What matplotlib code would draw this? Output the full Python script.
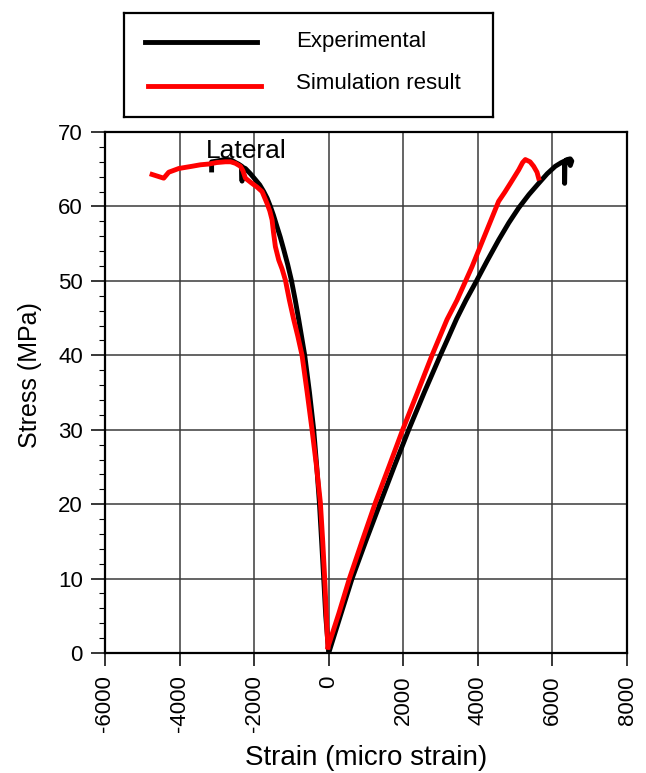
import numpy as np
import matplotlib.pyplot as plt
from matplotlib.ticker import MultipleLocator

plt.rcParams['font.family'] = ['Liberation Sans', 'DejaVu Sans']
plt.rcParams['axes.unicode_minus'] = False

# experimental curve, lateral branch (negative strain) and axial branch
exp_lat_strain = [0, -40, -80, -134, -190, -250, -320, -402, -515, -643, -804,
                  -900, -1001, -1100, -1206, -1300, -1400, -1480, -1564, -1650,
                  -1743, -1850, -1966, -2100, -2234, -2324, -2324, -2330, -2420,
                  -2500, -2600, -2700, -2800, -2900, -3000, -3128, -3140, -3140]
exp_lat_stress = [0, 2.5, 5, 10, 15, 20.2, 25, 30, 35, 40, 44.8,
                  47.5, 50.1, 52.2, 54.2, 55.9, 57.5, 58.8, 60, 61.1,
                  62, 62.9, 63.6, 64.4, 65.1, 65.3, 63.4, 65.4, 65.7,
                  65.9, 66.2, 66.3, 66.3, 66.2, 66.1, 66.0, 66.0, 64.9]
exp_ax_strain = [0, 300, 626, 1000, 1386, 1760, 2145, 2570, 2994, 3200, 3430,
                 3680, 3932, 4250, 4558, 4830, 5094, 5370, 5630, 5860, 6077,
                 6240, 6327, 6327, 6335, 6389, 6479, 6520, 6480, 6450]
exp_ax_stress = [0, 4.8, 10, 15.1, 20.2, 25.1, 30, 35.1, 40, 42.3, 44.9,
                 47.4, 49.7, 52.7, 55.5, 57.8, 59.8, 61.6, 63.1, 64.4, 65.4,
                 65.9, 66.1, 63.1, 66.1, 66.3, 66.4, 66.1, 65.5, 65.9]

# simulation result
sim_lat_strain = [-20, -45, -107, -160, -223, -330, -447, -580, -715, -830, -938,
                  -1054, -1161, -1250, -1340, -1430, -1480, -1519, -1580, -1653,
                  -1787, -1920, -2056, -2234, -2300, -2368, -2502, -2630, -2770,
                  -3000, -3217, -3440, -3664, -4021, -4290, -4424, -4737]
sim_lat_stress = [0.8, 3, 10, 15, 20.2, 25.2, 30, 35.1, 40, 42.6, 44.8,
                  47.4, 50.1, 51.6, 52.8, 54.6, 56.5, 58.2, 59.4, 60.4,
                  62, 62.6, 63.1, 63.8, 64.8, 65.4, 65.8, 66.0, 66.0,
                  65.9, 65.7, 65.6, 65.4, 65.1, 64.6, 63.8, 64.3]
sim_ax_strain = [-20, 270, 555, 900, 1252, 1620, 1984, 2380, 2770, 3172, 3440,
                 3843, 4200, 4558, 4720, 4871, 5094, 5200, 5273, 5400, 5496,
                 5587, 5630]
sim_ax_stress = [0.8, 5.3, 10, 15.1, 20.2, 25.1, 30, 35, 40, 44.8, 47.4,
                 51.9, 56.3, 60.7, 61.9, 63.1, 64.9, 65.9, 66.3, 66.0, 65.4,
                 64.6, 63.8]

fig = plt.figure(figsize=(6.46, 7.73), dpi=100)
ax = fig.add_axes([0.1625, 0.1552, 0.8081, 0.674])

lw = 3.5
ax.plot(exp_lat_strain, exp_lat_stress, color='black', lw=lw, zorder=3)
ax.plot(exp_ax_strain, exp_ax_stress, color='black', lw=lw, zorder=3)
ax.plot(sim_lat_strain, sim_lat_stress, color='red', lw=lw, zorder=4)
ax.plot(sim_ax_strain, sim_ax_stress, color='red', lw=lw, zorder=4)

ax.set_xlim(-6000, 8000)
ax.set_ylim(0, 70)
ax.xaxis.set_major_locator(MultipleLocator(2000))
ax.yaxis.set_major_locator(MultipleLocator(10))
ax.yaxis.set_minor_locator(MultipleLocator(2))
ax.grid(True, which='major', color='#3a3a3a', lw=1.1, zorder=1)
ax.set_axisbelow(True)
for s in ax.spines.values():
    s.set_linewidth(1.6)
ax.tick_params(which='major', direction='out', length=10, width=1.1,
               labelsize=16, pad=6)
ax.tick_params(which='minor', direction='out', length=4, width=0.8)
ax.tick_params(axis='x', labelrotation=90, length=9, pad=7)

ax.set_xlabel('Strain (micro strain)', fontsize=20, labelpad=9)
ax.set_ylabel('Stress (MPa)', fontsize=18)
ax.yaxis.set_label_coords(-0.121, 0.534)

ax.text(-3300, 66.5, 'Lateral', fontsize=19, va='baseline', ha='left', zorder=5)

# legend box above the axes
lax = fig.add_axes([0.192, 0.849, 0.571, 0.134])
lax.set_xlim(0, 1)
lax.set_ylim(0, 1)
lax.set_xticks([])
lax.set_yticks([])
for s in lax.spines.values():
    s.set_linewidth(1.6)
lax.plot([0.057, 0.360], [0.72, 0.72], color='black', lw=3.5)
lax.plot([0.066, 0.372], [0.30, 0.30], color='red', lw=3.5)
lax.text(0.466, 0.73, 'Experimental', fontsize=16, va='center')
lax.text(0.466, 0.32, 'Simulation result', fontsize=16, va='center')

fig.savefig('out.png', dpi=100)
